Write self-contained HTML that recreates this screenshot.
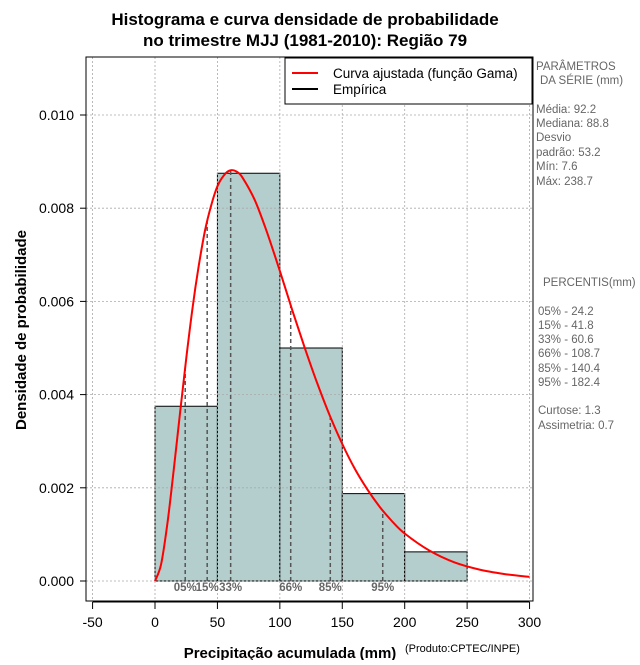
<!DOCTYPE html>
<html><head><meta charset="utf-8"><style>
body{margin:0;background:#fff;font-family:"Liberation Sans",sans-serif}
svg text{font-family:"Liberation Sans",sans-serif}
</style></head><body>
<svg width="640" height="660" xmlns="http://www.w3.org/2000/svg">
<rect width="640" height="660" fill="#fff"/>
<text x="305" y="25" font-size="17" font-weight="bold" text-anchor="middle">Histograma e curva densidade de probabilidade</text>
<text x="305" y="46" font-size="17" font-weight="bold" text-anchor="middle">no trimestre MJJ (1981-2010): Região 79</text>
<g id="plot"></g>
<rect x="86" y="57" width="447" height="544" fill="none" stroke="#000"/>
<g>
<rect x="285" y="58" width="247" height="46" fill="#fff" stroke="#000"/>
<line x1="292" y1="73" x2="318" y2="73" stroke="#f00" stroke-width="2"/>
<text x="333" y="78" font-size="13.5">Curva ajustada (função Gama)</text>
<line x1="292" y1="89" x2="318" y2="89" stroke="#000" stroke-width="2"/>
<text x="333" y="94" font-size="13.5">Empírica</text>
</g>
<text x="290" y="658" font-size="15" font-weight="bold" text-anchor="middle">Precipitação acumulada (mm)</text>
<text x="405" y="652" font-size="11">(Produto:CPTEC/INPE)</text>
<text transform="translate(26,330) rotate(-90)" font-size="15" font-weight="bold" text-anchor="middle">Densidade de probabilidade</text>
<g font-size="11.5" fill="#666">
<text x="536" y="70">PARÂMETROS</text><text x="540" y="84">DA SÉRIE (mm)</text>
<text x="536" y="113">Média:  92.2</text><text x="536" y="127">Mediana:  88.8</text>
<text x="536" y="141">Desvio</text><text x="536" y="156">padrão:  53.2</text>
<text x="536" y="170">Mín:  7.6</text><text x="536" y="185">Máx:  238.7</text>
<text x="543" y="286">PERCENTIS(mm)</text>
<text x="538" y="315">05% -  24.2</text><text x="538" y="329">15% -  41.8</text>
<text x="538" y="343">33% -  60.6</text><text x="538" y="357">66% -  108.7</text>
<text x="538" y="372">85% -  140.4</text><text x="538" y="386">95% -  182.4</text>
<text x="538" y="414">Curtose:  1.3</text><text x="538" y="429">Assimetria:  0.7</text>
</g>
</svg>
<script>
const binStarts=[0,50,100,150,200];
const binDensity=[0.00375,0.00875,0.005,0.001875,0.000625];
const binWidth=50;
const curveX=[0,5,10,15,20,25,30,35,40,45,50,55,60,65,70,80,90,100,110,120,130,140,150,160,170,180,190,200,220,240,260,280,300];
const curveY=[0,0.00037,0.00125,0.00238,0.0036,0.00477,0.00585,0.00676,0.00751,0.00806,0.00847,0.00870,0.00881,0.00879,0.00866,0.00817,0.00746,0.00665,0.00581,0.005,0.00424,0.00355,0.00294,0.00241,0.00197,0.00159,0.00128,0.00102,0.00065,0.0004,0.000245,0.000149,0.000089];
const pctLabels=["05%","15%","33%","66%","85%","95%"];
const pctValues=[24.2,41.8,60.6,108.7,140.4,182.4];
const xTicks=[-50,0,50,100,150,200,250,300];
const yTicks=[0,0.002,0.004,0.006,0.008,0.010];
const yTickLabels=["0.000","0.002","0.004","0.006","0.008","0.010"];

const NS="http://www.w3.org/2000/svg";
const X=v=>155+v*1.2485;
const Y=v=>581-v*46600;
const g=document.getElementById('plot');
function mk(t,a,p){const e=document.createElementNS(NS,t);for(const k in a)e.setAttribute(k,a[k]);(p||g).appendChild(e);return e;}
function dens(x){for(let i=1;i<curveX.length;i++){if(x<=curveX[i]){const t=(x-curveX[i-1])/(curveX[i]-curveX[i-1]);return curveY[i-1]+t*(curveY[i]-curveY[i-1]);}}return curveY[curveY.length-1];}
binStarts.forEach((s,i)=>{
 const r=mk('rect',{x:X(s),y:Y(binDensity[i]),width:X(s+binWidth)-X(s),height:Y(0)-Y(binDensity[i]),fill:'#b4cece',stroke:'#000','stroke-width':1});
 
 
});
xTicks.forEach(v=>{const l=mk('line',{x1:X(v),x2:X(v),y1:57,y2:601,stroke:'#aaa','stroke-dasharray':'2,2','stroke-width':0.8});
 });
yTicks.forEach(v=>{const l=mk('line',{x1:86,x2:533,y1:Y(v),y2:Y(v),stroke:'#aaa','stroke-dasharray':'2,2','stroke-width':0.8});
 });
pctValues.forEach((v,i)=>{
 const l=mk('line',{x1:X(v),x2:X(v),y1:Y(0),y2:Y(dens(v)),stroke:'#555','stroke-dasharray':'4,3','stroke-width':1.5});
 
 const t=mk('text',{x:X(v),y:591,'font-size':11.5,'font-weight':'bold',fill:'#666','text-anchor':'middle'});
 t.textContent=pctLabels[i];
 
});
const P=curveX.map((v,i)=>[X(v),Y(curveY[i])]);
let d='M'+P[0][0]+','+P[0][1];
for(let i=0;i<P.length-1;i++){
 const p0=P[Math.max(0,i-1)],p1=P[i],p2=P[i+1],p3=P[Math.min(P.length-1,i+2)];
 const c1=[p1[0]+(p2[0]-p0[0])/6,p1[1]+(p2[1]-p0[1])/6],c2=[p2[0]-(p3[0]-p1[0])/6,p2[1]-(p3[1]-p1[1])/6];
 d+='C'+c1.map(n=>n.toFixed(1)).join(',')+' '+c2.map(n=>n.toFixed(1)).join(',')+' '+p2.map(n=>n.toFixed(1)).join(',');
}
const c=mk('path',{d:d,fill:'none',stroke:'#f00','stroke-width':2});

const ax=mk('line',{x1:X(-50),x2:X(300),y1:602,y2:602,stroke:'#000'});

xTicks.forEach(v=>{mk('line',{x1:X(v),x2:X(v),y1:602,y2:609,stroke:'#000'});
 const t=mk('text',{x:X(v),y:627,'font-size':14,'text-anchor':'middle'});t.textContent=v;
 });
const ay=mk('line',{x1:86,x2:86,y1:Y(0),y2:Y(0.010),stroke:'#000'});

yTicks.forEach((v,i)=>{mk('line',{x1:80,x2:86,y1:Y(v),y2:Y(v),stroke:'#000'});
 const t=mk('text',{x:74,y:Y(v)+5,'font-size':14,'text-anchor':'end'});t.textContent=yTickLabels[i];
 });
</script>
</body></html>
